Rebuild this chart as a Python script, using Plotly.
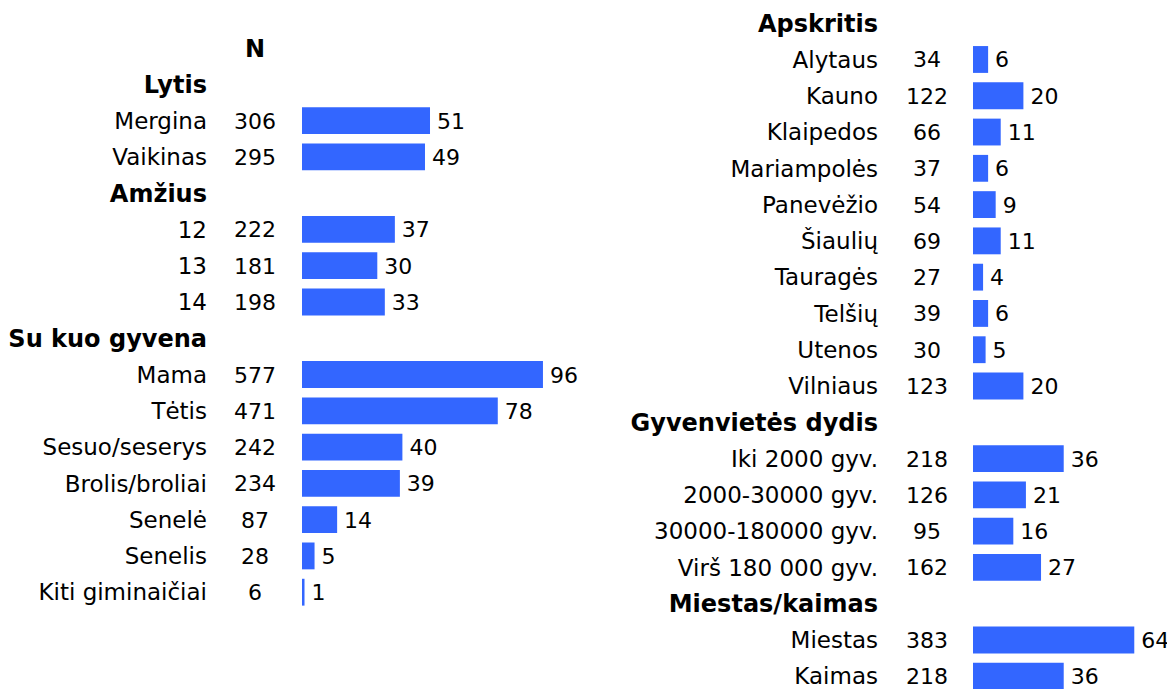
import plotly.graph_objects as go

# ---------------- data ----------------
# Left panel
lytis_header = "Lytis"
lytis_labels = ["Mergina", "Vaikinas"]
lytis_n = [306, 295]
lytis_pct = [51, 49]

amzius_header = "Amžius"
amzius_labels = ["12", "13", "14"]
amzius_n = [222, 181, 198]
amzius_pct = [37, 30, 33]

gyvena_header = "Su kuo gyvena"
gyvena_labels = ["Mama", "Tėtis", "Sesuo/seserys", "Brolis/broliai", "Senelė", "Senelis", "Kiti giminaičiai"]
gyvena_n = [577, 471, 242, 234, 87, 28, 6]
gyvena_pct = [96, 78, 40, 39, 14, 5, 1]

# Right panel
apskritis_header = "Apskritis"
apskritis_labels = ["Alytaus", "Kauno", "Klaipedos", "Mariampolės", "Panevėžio", "Šiaulių",
                    "Tauragės", "Telšių", "Utenos", "Vilniaus"]
apskritis_n = [34, 122, 66, 37, 54, 69, 27, 39, 30, 123]
apskritis_pct = [6, 20, 11, 6, 9, 11, 4, 6, 5, 20]

dydis_header = "Gyvenvietės dydis"
dydis_labels = ["Iki 2000 gyv.", "2000-30000 gyv.", "30000-180000 gyv.", "Virš 180 000 gyv."]
dydis_n = [218, 126, 95, 162]
dydis_pct = [36, 21, 16, 27]

miestas_header = "Miestas/kaimas"
miestas_labels = ["Miestas", "Kaimas"]
miestas_n = [383, 218]
miestas_pct = [64, 36]

n_header = "N"

left_groups = [(lytis_header, lytis_labels, lytis_n, lytis_pct),
               (amzius_header, amzius_labels, amzius_n, amzius_pct),
               (gyvena_header, gyvena_labels, gyvena_n, gyvena_pct)]
right_groups = [(apskritis_header, apskritis_labels, apskritis_n, apskritis_pct),
                (dydis_header, dydis_labels, dydis_n, dydis_pct),
                (miestas_header, miestas_labels, miestas_n, miestas_pct)]

# ---------------- styling ----------------
FONT = "DejaVu Sans"
FS = 23
FSN = 22
FSB = 24
BAR = "#3366ff"
W, H = 1175, 689
ROW = 36.28         # px per row
OFF = 8             # page body margin
TXT_DY = 2.5 / ROW  # nudge text down slightly (rows axis is reversed)


def build_rows(groups, start):
    heads, hy = [], []
    labs, ns, pcts, ys = [], [], [], []
    k = start
    for head, labels, n, pct in groups:
        heads.append(head)
        hy.append(k)
        k += 1
        for lab, nn, pp in zip(labels, n, pct):
            labs.append(lab)
            ns.append(nn)
            pcts.append(pp)
            ys.append(k)
            k += 1
    return heads, hy, labs, ns, pcts, ys


fig = go.Figure()

panels = [
    # groups, first row, axis suffix, bar start px, label right px, N center px, row0 px, x domain px, show N, px/unit
    (left_groups, 1, "", 302, 207, 255, 48, (0, 620), True, 2.51),
    (right_groups, 0, "2", 973, 878, 927, 23.2, (620, 1175), False, 2.52),
]

for groups, start, sfx, bar0, lab_px, n_px, row0_px, dom, show_n, pxu in panels:
    bar0 -= OFF
    lab_px -= OFF
    n_px -= OFF
    row0_px -= OFF
    dom = (max(dom[0] - OFF, 0), dom[1] - OFF)
    heads, hy, labs, ns, pcts, ys = build_rows(groups, start)
    ty = [y + TXT_DY for y in ys]
    thy = [y + TXT_DY for y in hy]
    xa = "x" + sfx
    ya = "y" + sfx
    lab_x = (lab_px - bar0) / pxu
    n_x = (n_px - bar0) / pxu
    tf = dict(family=FONT, size=FS, color="#000")
    tfn = dict(family=FONT, size=FSN, color="#000")
    tfb = dict(family=FONT, size=FSB, color="#000")

    fig.add_trace(go.Bar(x=pcts, y=ys, orientation="h", marker=dict(color=BAR, line=dict(width=0)),
                         width=0.74, xaxis=xa, yaxis=ya, hoverinfo="skip", showlegend=False))
    # value labels
    fig.add_trace(go.Scatter(x=pcts, y=ty, mode="text", text=["\u00a0" + str(p) for p in pcts],
                             textposition="middle right", textfont=tfn,
                             xaxis=xa, yaxis=ya, hoverinfo="skip", showlegend=False))
    # category labels
    fig.add_trace(go.Scatter(x=[lab_x] * len(labs), y=ty, mode="text", text=labs,
                             textposition="middle left", textfont=tf,
                             xaxis=xa, yaxis=ya, hoverinfo="skip", showlegend=False))
    # N values
    fig.add_trace(go.Scatter(x=[n_x] * len(ns), y=ty, mode="text", text=[str(v) for v in ns],
                             textposition="middle center", textfont=tfn,
                             xaxis=xa, yaxis=ya, hoverinfo="skip", showlegend=False))
    # headers
    fig.add_trace(go.Scatter(x=[lab_x] * len(heads), y=thy, mode="text", text=["<b>%s</b>" % h for h in heads],
                             textposition="middle left", textfont=tfb,
                             xaxis=xa, yaxis=ya, hoverinfo="skip", showlegend=False))
    if show_n:
        fig.add_trace(go.Scatter(x=[n_x], y=[start - 1 + TXT_DY], mode="text", text=["<b>%s</b>" % n_header],
                                 textposition="middle center", textfont=tfb,
                                 xaxis=xa, yaxis=ya, hoverinfo="skip", showlegend=False))

    x_min = (dom[0] - bar0) / pxu
    x_max = (dom[1] - bar0) / pxu
    top = (start - 1 if show_n else start) - row0_px / ROW
    bottom = top + H / ROW
    axis_common = dict(showgrid=False, zeroline=False, showticklabels=False, showline=False, ticks="",
                       fixedrange=True)
    fig.layout["xaxis" + sfx] = dict(domain=[dom[0] / W, dom[1] / W], range=[x_min, x_max],
                                     anchor=ya, **axis_common)
    fig.layout["yaxis" + sfx] = dict(domain=[0, 1], range=[bottom, top], anchor=xa, **axis_common)

fig.update_layout(width=W, height=H, margin=dict(l=0, r=0, t=0, b=0),
                  paper_bgcolor="white", plot_bgcolor="white",
                  font=dict(family=FONT, size=FS, color="#000"), showlegend=False)

for tr in fig.data:
    tr.cliponaxis = False

fig.write_html("out.html")
